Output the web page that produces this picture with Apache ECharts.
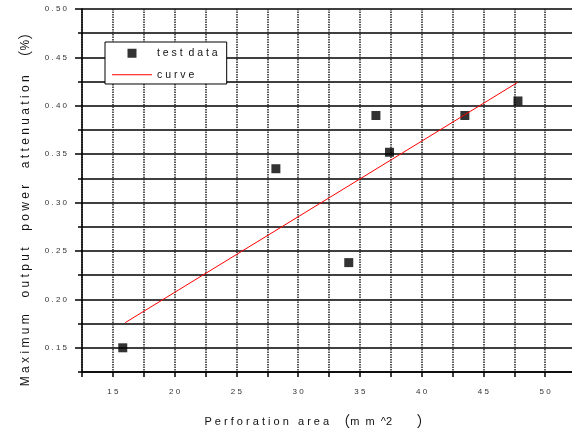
<!DOCTYPE html>
<html>
<head>
<meta charset="utf-8">
<script src="https://cdn.jsdelivr.net/npm/echarts@6/dist/echarts.min.js"></script>
<style>html,body{margin:0;padding:0;background:#fff}#c{width:572px;height:430px}</style>
</head>
<body>
<div id="c"></div>
<script>
var testX = [15.8, 28.2, 34.1, 36.3, 37.4, 43.5, 47.8];
var testY = [0.150, 0.335, 0.238, 0.390, 0.352, 0.390, 0.405];
var curveX = [16.0, 47.75];
var curveY = [0.176, 0.424];
var yMajorTicks = [0.15, 0.20, 0.25, 0.30, 0.35, 0.40, 0.45, 0.50];
var xMajorTicks = [15, 20, 25, 30, 35, 40, 45, 50];

function spaced(s){ return s.split('').join(' '); }
var FONT = '"Liberation Sans", Arial, "Noto Sans CJK SC", sans-serif';
var CJK = '"Noto Sans CJK SC", "Liberation Sans", sans-serif';

var chart = echarts.init(document.getElementById('c'), null, {renderer:'canvas'});
var option = {
  animation: false,
  backgroundColor: '#fff',
  grid: {left: 82, top: 9, width: 494, height: 363, containLabel: false, outerBoundsMode: 'none'},
  legend: {
    left: 105, top: 42, orient: 'vertical',
    backgroundColor: '#fff', borderColor: '#000', borderWidth: 1, borderRadius: 0,
    padding: [6, 9, 4, 7], itemGap: 11, itemWidth: 40, itemHeight: 9,
    textStyle: {fontFamily: FONT, fontSize: 10.5, color: '#111'},
    formatter: function(n){ return n === 'test data' ? 't e s t  d a t a' : 'c u r v e'; },
    data: [
      {name: 'test data', icon: 'path://M0,0L10,0L10,10L0,10Z', symbolKeepAspect: true},
      {name: 'curve', icon: 'path://M0,0L40,0L40,1L0,1Z', symbolKeepAspect: true}
    ]
  },
  xAxis: {
    type: 'value', min: 12.5, max: 52.5, interval: 2.5,
    name: 'P e r f o r a t i o n   a r e a  {p|（}m  m  ^2        {p|）}',
    nameLocation: 'middle', nameGap: 42,
    nameTextStyle: {fontFamily: FONT, fontSize: 11, color: '#111', padding: [0, 22, 0, 0],
      rich: {p: {fontFamily: CJK, fontSize: 15, color: '#111'}}},
    axisLine: {lineStyle: {color: '#000', width: 1.5}},
    axisTick: {length: 5, lineStyle: {color: '#000', width: 1.5}},
    axisLabel: {margin: 16, fontFamily: FONT, fontSize: 8, color: '#333',
      customValues: xMajorTicks,
      formatter: function(v){ return spaced(String(Math.round(v))); }},
    splitLine: {show: true, lineStyle: {color: '#222', width: 1.5, type: [1.5, 1]}}
  },
  yAxis: [{
    type: 'value', min: 0.125, max: 0.5, interval: 0.025,
    axisLine: {lineStyle: {color: '#000', width: 1.5}},
    axisTick: {length: 4, lineStyle: {color: '#000', width: 1.5}},
    axisLabel: {show: false},
    splitLine: {show: true, lineStyle: {color: '#000', width: 1.5}}
  }, {
    type: 'value', min: 0.125, max: 0.5, interval: 0.025, position: 'left',
    name: 'M a x i m u m     o u t p u t     p o w e r     a t t e n u a t i o n   {p|（}%{p|）}',
    nameLocation: 'middle', nameGap: 49, nameRotate: 90,
    nameTextStyle: {fontFamily: FONT, fontSize: 12, color: '#111', padding: [0, 30, 0, 0],
      rich: {p: {fontFamily: CJK, fontSize: 15, color: '#111'}}},
    axisLine: {show: false},
    axisTick: {show: true, length: 7, customValues: yMajorTicks, lineStyle: {color: '#000', width: 1.5}},
    axisLabel: {margin: 15, fontFamily: FONT, fontSize: 8, color: '#333', customValues: yMajorTicks,
      formatter: function(v){ return spaced(v.toFixed(2)); }},
    splitLine: {show: false}
  }],
  series: [{
    name: 'test data', type: 'scatter', symbol: 'rect', symbolSize: 9,
    itemStyle: {color: '#000'},
    data: testX.map(function(x, i){ return [x, testY[i]]; })
  }, {
    name: 'curve', type: 'line', showSymbol: false, symbol: 'none',
    lineStyle: {color: '#ff0000', width: 1}, itemStyle: {color: '#ff0000'},
    data: curveX.map(function(x, i){ return [x, curveY[i]]; })
  }]
};
chart.setOption(option);
</script>
</body>
</html>
